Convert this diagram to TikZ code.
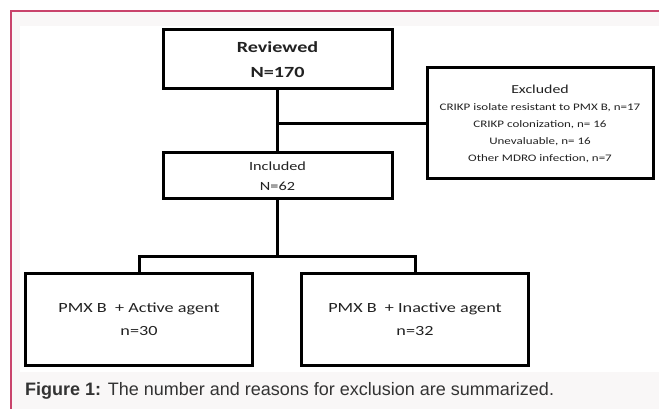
\documentclass[tikz,border=0pt]{standalone}
\usepackage{fontspec}
\setmainfont{Liberation Sans}
\newfontfamily\boxfont[FakeStretch=1.3]{Carlito}
\usepackage{tikz}
\usetikzlibrary{positioning}
\definecolor{framered}{HTML}{C9446C}
\definecolor{pagegray}{HTML}{F9F7F7}
\definecolor{textgray}{HTML}{222222}
\definecolor{captiongray}{HTML}{333333}
\tikzset{
box/.style={rectangle, draw, line width=3pt, outer sep=0pt, align=center, text=textgray, inner sep=0pt},
big_box/.style={box, minimum width=229pt, minimum height=59pt, font=\boxfont\bfseries\fontsize{15.5}{25}\selectfont},
small_box/.style={box, minimum width=229pt, minimum height=46pt, font=\boxfont\fontsize{12.5}{20}\selectfont},
side_box/.style={box, minimum width=226pt, minimum height=111pt, font=\boxfont\fontsize{10}{17}\selectfont},
arm_box/.style={box, minimum width=227pt, minimum height=92pt, font=\boxfont\fontsize{14}{23}\selectfont},
link/.style={line width=3pt},
caption/.style={anchor=west, inner sep=0pt, text=captiongray, font=\fontsize{18}{21}\selectfont}
}

\begin{document}
\begin{tikzpicture}[x=1pt, y=1pt]
    % page frame
    \useasboundingbox (0,0) rectangle (659,-409);
    \fill[white] (0,0) rectangle (659,-409);
    \fill[pagegray] (11,-11) rectangle (659,-409);
    \fill[white] (20,-26) rectangle (659,-372);
    \draw[framered, line width=2pt] (11,-409) -- (11,-11) -- (659,-11);

    \node[big_box] (reviewed) at (277.5,-59.5) {Reviewed\\N=170};
    \node[small_box] (included) [below=64pt of reviewed] {Included\\N=62};
    \node[side_box] (excluded) [below right=-21pt and 35pt of reviewed]
        {{\fontsize{12.2}{17}\selectfont Excluded}\\
         CRIKP isolate resistant to PMX B, n=17\\
         CRIKP colonization, n= 16\\
         Unevaluable, n= 16\\
         Other MDRO infection, n=7};
    \node[coordinate] (fork) [below=57pt of included] {};
    \node[arm_box] (active) [below left=17pt and 25pt of fork] {PMX B \ + Active agent\\n=30};
    \node[arm_box] (inactive) [below right=17pt and 24pt of fork] {PMX B \ + Inactive agent\\n=32};

    \draw[link] (reviewed) -- (included);
    \draw[link] (excluded.west) -- (excluded.west -| reviewed.south);
    \draw[link] (included) -- (fork);
    \draw[link] (active.north) |- (fork) -| (inactive.north);

    \node[caption] (fig_caption) at (25,-391) {\textbf{Figure 1:} The number and reasons for exclusion are summarized.};
\end{tikzpicture}
\end{document}
